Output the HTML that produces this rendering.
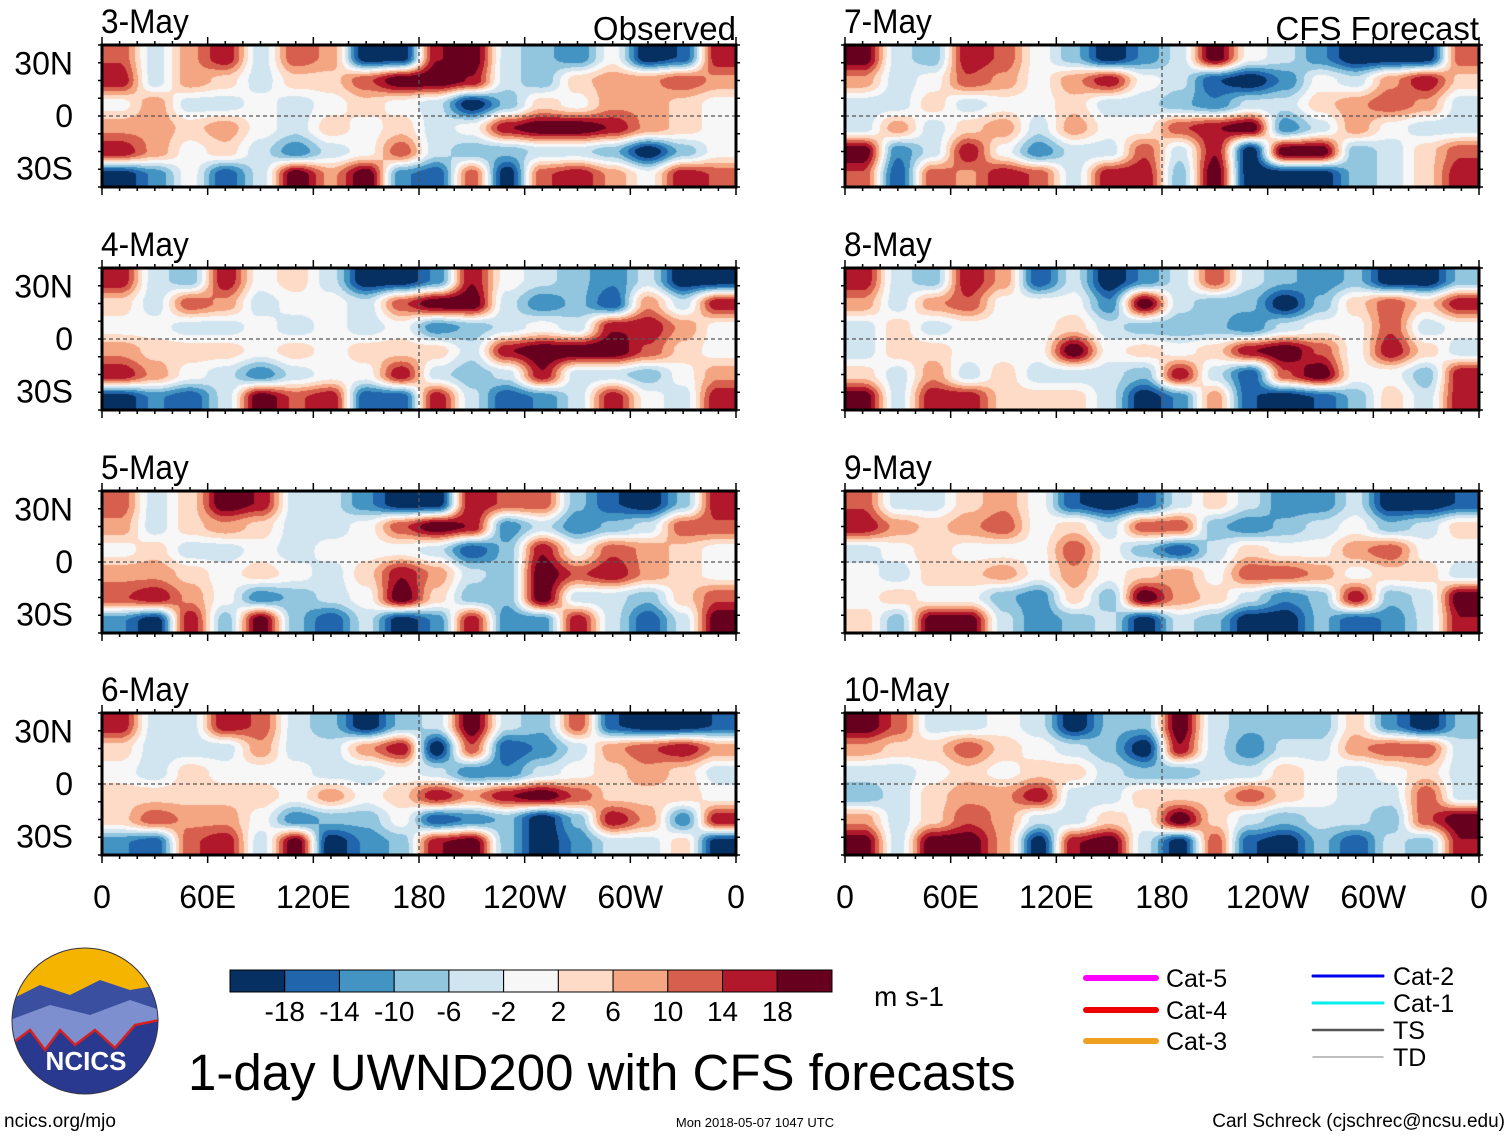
<!DOCTYPE html>
<html><head><meta charset="utf-8">
<style>
html,body{margin:0;padding:0;background:#fff;}
#wrap{position:relative;width:1510px;height:1137px;overflow:hidden;}
canvas{position:absolute;}
svg{position:absolute;left:0;top:0;display:block;font-family:"Liberation Sans",Arial,sans-serif;}
</style></head>
<body>
<div id="wrap">
<svg id="root" width="1510" height="1137" viewBox="0 0 1510 1137">
<g id="panels"></g>
<g id="bottom"></g>
</svg>
</div>
<script>
// color classes -5..5
const palette=["#053061","#2166ac","#4393c3","#92c5de","#d1e5f0","#f7f7f7","#fddbc7","#f4a582","#d6604d","#b2182b","#67001f"];
const cbLabels=["-18","-14","-10","-6","-2","2","6","10","14","18"];
const xLabels=["0","60E","120E","180","120W","60W","0"];
const yLabels=["30N","0","30S"];
const dates=["3-May","4-May","5-May","6-May","7-May","8-May","9-May","10-May"];
const f3=[[3,-1,2,4,-1,3,2,-5,-5,4,5,-1,-2,-3,0,-5,-4,4],[4,-1,2,1,-1,1,1,3,5,5,4,-1,-2,1,2,2,3,2],[0,2,-1,-1,0,-1,0,1,0,-1,-5,-2,1,0,2,2,1,0],[2,2,1,2,0,-1,1,0,1,-1,0,4,5,5,4,2,1,0],[4,2,0,1,-1,-3,-1,0,3,-1,-2,-2,-1,-1,-2,-5,-2,0],[-5,-3,0,-4,-1,5,2,5,-3,-4,3,-5,3,4,2,0,4,3]];
const f4=[[4,-1,-2,4,0,1,-1,-5,-5,-3,4,0,-1,-2,-3,-1,-5,-5],[1,-1,3,2,-1,0,0,-1,3,5,5,-1,-3,-2,-4,2,-1,4],[0,0,-1,-1,0,-1,0,-1,0,-3,-2,-1,0,-1,4,4,2,0],[2,1,1,1,0,1,0,1,1,1,-1,4,5,5,5,3,1,0],[4,2,0,-1,-3,-1,0,0,4,-1,-2,-1,4,-1,-1,-2,0,2],[-5,-3,-4,-1,5,3,4,-4,-4,4,-1,-4,-3,-1,4,0,-1,4]];
const f5=[[3,-1,1,5,4,-1,-1,-3,-5,-5,4,3,3,-2,-4,-5,-2,4],[2,-1,1,2,1,-1,-1,0,3,5,4,-3,-1,-3,-2,-1,3,3],[0,1,-1,-1,0,-1,0,0,0,-1,-4,-2,4,0,3,2,1,0],[2,2,1,0,1,0,-1,1,4,2,-1,-2,5,3,4,2,1,0],[3,4,2,0,-3,-2,-1,0,5,1,-2,-2,5,-1,-1,-2,1,3],[-3,-5,4,-2,5,-2,-4,-1,-5,-3,4,-3,-3,4,-1,-4,-1,5]];
const f6=[[4,-1,-1,4,3,-1,-2,-5,-2,-1,5,-1,-2,3,-4,-5,-5,-4],[1,-1,-1,-1,2,-1,-1,2,4,-5,3,-4,-3,-1,2,3,4,2],[0,-1,1,0,0,0,-1,-1,0,-1,-3,-3,-1,0,1,2,1,-1],[1,1,1,1,1,0,2,0,1,4,2,4,5,3,1,1,1,0],[1,3,2,2,0,-3,-2,-2,0,-4,-3,-2,-5,-2,4,2,-3,4],[-3,-4,3,4,-1,5,-5,-3,-2,4,5,-2,-5,-3,-1,-1,1,-5]];
const f7=[[5,-1,-2,4,3,0,-2,-5,-3,-1,5,0,-1,-3,-5,-5,-5,3],[2,-1,0,3,2,0,2,4,0,-1,-4,-5,-3,0,-1,2,4,1],[-1,-1,1,-1,0,0,1,-1,-1,-2,-3,-1,-1,1,2,3,2,-1],[-1,2,-1,1,2,-1,2,0,0,3,4,5,-3,-1,2,0,-1,-1],[5,-3,-1,4,0,-3,-1,-1,3,-1,4,-5,5,5,-2,-1,1,3],[3,-4,3,2,4,3,-1,4,4,-2,5,-5,-5,-5,-2,-1,1,4]];
const f8=[[4,-1,-2,4,2,-4,-1,-5,-3,-1,3,-1,-2,-3,-2,-5,-5,-2],[2,-1,2,3,0,0,0,-3,5,-1,-2,-2,-5,-2,1,3,1,4],[-1,1,-1,0,0,0,1,-1,-2,-2,-2,-3,-1,0,0,3,-1,0],[-1,1,1,0,0,0,5,0,1,0,1,4,5,3,0,4,1,-1],[1,-1,2,-1,1,-1,-1,-1,-2,4,-1,-4,3,5,0,0,-2,4],[5,-1,4,4,1,1,1,-1,-5,-3,2,-4,-5,-4,-2,1,-1,4]];
const f9=[[3,-1,-1,1,2,0,-4,-5,-4,-1,1,-1,-3,-3,-1,-5,-5,-4],[4,2,1,2,3,0,1,-1,3,3,-2,-3,-2,-1,0,-2,-1,1],[-1,0,1,0,0,0,3,0,-2,-4,-1,1,0,0,2,3,0,0],[0,-1,1,1,2,0,2,0,1,2,0,3,3,2,0,1,1,-1],[0,1,0,0,-2,-3,1,-2,5,2,1,-1,-3,-2,4,-2,-1,5],[1,-2,5,5,-1,-3,-2,-1,-5,-1,-2,-5,-5,-2,-4,-3,-1,4]];
const f10=[[5,3,-1,-1,0,-1,-5,-2,-2,5,-1,-2,-2,-2,1,-3,-5,-2],[2,1,1,3,1,0,-1,-2,-5,4,-1,-3,-1,-1,2,3,3,-1],[-1,-1,0,1,0,1,1,-1,-2,-2,-1,-1,1,0,-1,0,1,-1],[-2,-1,1,2,2,4,-1,-1,1,1,1,3,1,0,-1,-1,3,-1],[2,-1,1,3,2,-1,-1,1,0,5,1,-1,-2,-1,-1,-2,3,5],[5,-1,5,5,2,-5,4,5,-1,-5,3,-4,-5,-2,-4,-1,-2,4]];
const fields=[f3,f4,f5,f6,f7,f8,f9,f10];

const NS="http://www.w3.org/2000/svg";
function mk(tag,attrs,parent){const e=document.createElementNS(NS,tag);for(const k in attrs)e.setAttribute(k,attrs[k]);parent.appendChild(e);return e;}
const panelsG=document.getElementById('panels');
const wrap=document.getElementById('wrap');
const svgEl=document.getElementById('root');
const colX=[102,845], W=634, H=142, rowY=[45,268,491,713];
function sx(x0,i){return x0+i*W/6;}
function hex(c){return [parseInt(c.substr(1,2),16),parseInt(c.substr(3,2),16),parseInt(c.substr(5,2),16)];}
const palRGB=palette.map(hex);
function sm(t){return t*t*(3-2*t);}
function sample(fld,gx,gy){
  const nr=fld.length,nc=fld[0].length;
  gx=Math.max(0,Math.min(nc-1,gx));gy=Math.max(0,Math.min(nr-1,gy));
  const x0=Math.floor(gx),y0=Math.floor(gy),x1=Math.min(nc-1,x0+1),y1=Math.min(nr-1,y0+1);
  const tx=sm(gx-x0),ty=sm(gy-y0);
  const a=fld[y0][x0]*(1-tx)+fld[y0][x1]*tx,b=fld[y1][x0]*(1-tx)+fld[y1][x1]*tx;
  return a*(1-ty)+b*ty;
}

for(let p=0;p<8;p++){
  const col=p<4?0:1,row=p%4;
  const x0=colX[col],y0=rowY[row];
  const fld=fields[p],nr=fld.length,nc=fld[0].length;
  const cv=document.createElement('canvas');
  cv.width=W;cv.height=H;cv.style.left=x0+'px';cv.style.top=y0+'px';
  
  
  wrap.insertBefore(cv,svgEl);
  const ctx=cv.getContext('2d');const img=ctx.createImageData(W,H);
  const cw=W/nc,ch=H/nr;
  for(let y=0;y<H;y++)for(let x=0;x<W;x++){
    const v=sample(fld,(x+0.5)/cw-0.5,(y+0.5)/ch-0.5)*1.1;
    const idx=Math.max(0,Math.min(10,Math.round(v)+5));
    const c=palRGB[idx],o=(y*W+x)*4;
    img.data[o]=c[0];img.data[o+1]=c[1];img.data[o+2]=c[2];img.data[o+3]=255;
  }
  ctx.putImageData(img,0,0);

  const g=mk('g',{},panelsG);
  
  
  mk('line',{x1:x0,x2:x0+W,y1:y0+H/2,y2:y0+H/2,stroke:'#555','stroke-width':1.3,'stroke-dasharray':'4,3'},g);
  mk('line',{x1:x0+W/2,x2:x0+W/2,y1:y0,y2:y0+H,stroke:'#555','stroke-width':1.3,'stroke-dasharray':'4,3'},g);
  mk('rect',{x:x0,y:y0,width:W,height:H,fill:'none',stroke:'#000','stroke-width':3},g);
  for(let k=0;k<=36;k++){const x=x0+k*W/36,l=(k%6==0)?8:4;
    mk('line',{x1:x,x2:x,y1:y0-l,y2:y0,stroke:'#000','stroke-width':1.5},g);
    mk('line',{x1:x,x2:x,y1:y0+H,y2:y0+H+l,stroke:'#000','stroke-width':1.5},g);}
  for(let k=0;k<=8;k++){const y=y0+k*H/8;
    mk('line',{x1:x0-4,x2:x0,y1:y,y2:y,stroke:'#000','stroke-width':1.5},g);
    mk('line',{x1:x0+W,x2:x0+W+4,y1:y,y2:y,stroke:'#000','stroke-width':1.5},g);}
  const t=mk('text',{x:x0-1,y:y0-12,'font-size':34,transform:'translate('+(x0-1)+',0) scale(0.93,1) translate('+(-(x0-1))+',0)'},g);t.textContent=dates[p];
  
  
  if(row==0){const t2=mk('text',{x:x0+W,y:y0-5,'font-size':33,'text-anchor':'end'},g);t2.textContent=col==0?'Observed':'CFS Forecast';
    
    }
  if(col==0){
    yLabels.forEach((lb,i)=>{const yy=y0+H/2+(i-1)*H*0.37+11;
      const tt=mk('text',{x:73,y:yy,'font-size':32,'text-anchor':'end'},g);tt.textContent=lb;
      
      });
  }
  if(row==3){
    xLabels.forEach((lb,i)=>{const tt=mk('text',{x:sx(x0,i),y:908,'font-size':32,'text-anchor':'middle'},g);tt.textContent=lb;
      
      });
  }
}

const B=document.getElementById('bottom');
const lg=mk('g',{},B);


const cpl=mk('clipPath',{id:'lc'},lg);mk('circle',{cx:85,cy:1021,r:73},cpl);
const lgi=mk('g',{'clip-path':'url(#lc)'},lg);
mk('rect',{x:10,y:945,width:150,height:155,fill:'#f5b400'},lgi);
mk('path',{d:'M10 1000 L40 985 L70 995 L100 980 L130 990 L160 985 L160 1100 L10 1100Z',fill:'#3b4fa0'},lgi);
mk('path',{d:'M10 1020 L50 1005 L90 1015 L130 1000 L160 1010 L160 1100 L10 1100Z',fill:'#7e8fd0'},lgi);
mk('path',{d:'M10 1045 L30 1030 L45 1050 L60 1030 L75 1045 L95 1030 L115 1048 L135 1025 L160 1020 L160 1100 L10 1100Z',fill:'#2a3990'},lgi);
mk('path',{d:'M10 1045 L30 1030 L45 1050 L60 1030 L75 1045 L95 1030 L115 1048 L135 1025 L160 1020',fill:'none',stroke:'#d62020','stroke-width':2.5},lgi);
const lt=mk('text',{x:86,y:1070,'font-size':26,'font-weight':'bold',fill:'#fff','text-anchor':'middle'},lg);lt.textContent='NCICS';
mk('circle',{cx:85,cy:1021,r:73,fill:'none',stroke:'#334','stroke-width':1},lg);

const cb=mk('g',{},B);


const cbx=230,cbw=602/11;
palette.forEach((c,i)=>{const r=mk('rect',{x:cbx+i*cbw,y:970,width:cbw,height:22,fill:c,stroke:'#000','stroke-width':1},cb);
  
  });
cbLabels.forEach((lb,i)=>{const t=mk('text',{x:cbx+(i+1)*cbw,y:1021,'font-size':28,'text-anchor':'middle'},cb);t.textContent=lb;
  
  });
const un=mk('text',{x:874,y:1006,'font-size':28},B);un.textContent='m s-1';


const title=mk('text',{x:188,y:1090,'font-size':51},B);title.textContent='1-day UWND200 with CFS forecasts';


const legend=[["Cat-5","#ff00ff",1086,978,6],["Cat-4","#ee0000",1086,1010,6],["Cat-3","#f0a020",1086,1041,6],["Cat-2","#0000ee",1313,976,3],["Cat-1","#00eeee",1313,1003,3],["TS","#555555",1313,1030,2.5],["TD","#aaaaaa",1313,1057,1.5]];
legend.forEach(l=>{const g=mk('g',{},B);
  
  
  mk('line',{x1:l[2],x2:l[2]+70,y1:l[3],y2:l[3],stroke:l[1],'stroke-width':l[4],'stroke-linecap':'round'},g);
  const t=mk('text',{x:l[2]+80,y:l[3]+9,'font-size':25},g);t.textContent=l[0];});

const f1=mk('text',{x:4,y:1127,'font-size':19},B);f1.textContent='ncics.org/mjo';

const f2=mk('text',{x:755,y:1127,'font-size':13,'text-anchor':'middle'},B);f2.textContent='Mon 2018-05-07 1047 UTC';

const f3t=mk('text',{x:1505,y:1127,'font-size':19,'text-anchor':'end'},B);f3t.textContent='Carl Schreck (cjschrec@ncsu.edu)';

</script>
</body></html>
